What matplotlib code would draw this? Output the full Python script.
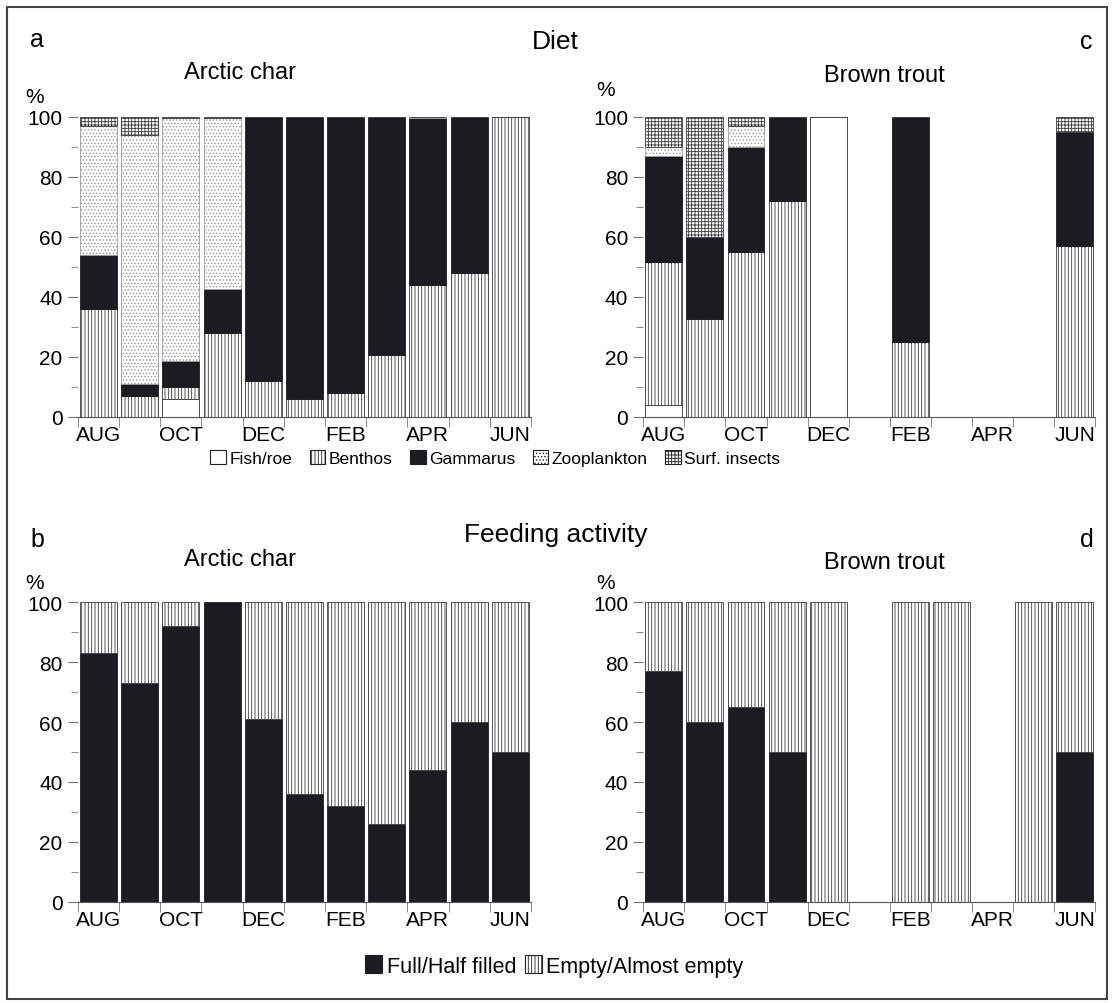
import matplotlib
matplotlib.use("Agg")
import matplotlib.pyplot as plt
from matplotlib.patches import Patch, Rectangle
import numpy as np

plt.rcParams['font.family'] = ['Liberation Sans', 'DejaVu Sans']
plt.rcParams['hatch.linewidth'] = 0.6

months = ['AUG', 'SEP', 'OCT', 'NOV', 'DEC', 'JAN', 'FEB', 'MAR', 'APR', 'MAY', 'JUN']
shown_labels = ['AUG', 'OCT', 'DEC', 'FEB', 'APR', 'JUN']

# Diet (% of stomach content), Arctic char
char_fish = [0, 0, 6, 0, 0, 0, 0, 0, 0, 0, 0]
char_benthos = [36, 7, 4, 28, 12, 6, 8, 20.5, 44, 48, 100]
char_gammarus = [18, 4, 8.5, 14.5, 88, 94, 92, 79.5, 55.7, 52, 0]
char_zoo = [43, 83, 81, 57, 0, 0, 0, 0, 0.3, 0, 0]
char_surf = [3, 6, 0.5, 0.5, 0, 0, 0, 0, 0, 0, 0]

# Diet, Brown trout
trout_fish = [4, 0, 0, 0, 100, 0, 0, 0, 0, 0, 0]
trout_benthos = [47.5, 32.5, 55, 72, 0, 0, 25, 0, 0, 0, 57]
trout_gammarus = [35.5, 27.5, 35, 28, 0, 0, 75, 0, 0, 0, 38]
trout_zoo = [3, 0, 7, 0, 0, 0, 0, 0, 0, 0, 0]
trout_surf = [10, 40, 3, 0, 0, 0, 0, 0, 0, 0, 5]

# Feeding activity
char_full = [83, 73, 92, 100, 61, 36, 32, 26, 44, 60, 50]
char_empty = [17, 27, 8, 0, 39, 64, 68, 74, 56, 40, 50]
trout_full = [77, 60, 65, 50, 0, 0, 0, 0, 0, 0, 50]
trout_empty = [23, 40, 35, 50, 100, 0, 100, 100, 0, 100, 50]

diet_names = ['Fish/roe', 'Benthos', 'Gammarus', 'Zooplankton', 'Surf. insects']
feed_names = ['Full/Half filled', 'Empty/Almost empty']

BLACK = '#1b1b22'
styles = {
    'Fish/roe': dict(facecolor='white', edgecolor='#333333', hatch=None),
    'Benthos': dict(facecolor='white', edgecolor='#3a3a3a', hatch='|||||'),
    'Gammarus': dict(facecolor=BLACK, edgecolor=BLACK, hatch=None),
    'Zooplankton': dict(facecolor='white', edgecolor='#9a9a9a', hatch='.....'),
    'Surf. insects': dict(facecolor='white', edgecolor='#3a3a3a', hatch='+++++'),
    'Full/Half filled': dict(facecolor=BLACK, edgecolor=BLACK, hatch=None),
    'Empty/Almost empty': dict(facecolor='white', edgecolor='#3a3a3a', hatch='|||||'),
}

fig = plt.figure(figsize=(11.13, 10.04), dpi=100)


def stacked(ax, names, series):
    x = np.arange(len(months))
    bottom = np.zeros(len(months))
    for name, vals in zip(names, series):
        vals = np.array(vals, dtype=float)
        st = styles[name]
        ax.bar(x, vals, width=0.9, bottom=bottom, facecolor=st['facecolor'],
               edgecolor=st['edgecolor'], hatch=st['hatch'], linewidth=0.6)
        bottom += vals
    ax.set_xlim(-0.5, len(months) - 0.5)
    ax.set_ylim(0, 100)
    for s in ['top', 'right', 'left']:
        ax.spines[s].set_visible(False)
    ax.spines['bottom'].set_color('#555555')
    ax.spines['bottom'].set_linewidth(0.8)
    ax.set_yticks(np.arange(0, 101, 20))
    ax.set_yticks(np.arange(0, 101, 10), minor=True)
    ax.set_xticks([months.index(m) for m in shown_labels])
    ax.set_xticklabels(shown_labels)
    ax.set_xticks(np.arange(-0.5, len(months)), minor=True)
    ax.tick_params(axis='x', which='major', length=0, pad=6, labelsize=15)
    ax.tick_params(axis='x', which='minor', length=7, color='#777777')
    ax.tick_params(axis='y', which='major', length=7, color='#777777', labelsize=15, pad=4)
    ax.tick_params(axis='y', which='minor', length=5, color='#777777')


ax_a = fig.add_axes([0.070, 0.5837, 0.407, 0.2988])
stacked(ax_a, diet_names, [char_fish, char_benthos, char_gammarus, char_zoo, char_surf])
ax_c = fig.add_axes([0.578, 0.5837, 0.406, 0.2988])
stacked(ax_c, diet_names, [trout_fish, trout_benthos, trout_gammarus, trout_zoo, trout_surf])
ax_b = fig.add_axes([0.070, 0.1006, 0.407, 0.2988])
stacked(ax_b, feed_names, [char_full, char_empty])
ax_d = fig.add_axes([0.578, 0.1006, 0.406, 0.2988])
stacked(ax_d, feed_names, [trout_full, trout_empty])

# titles and panel letters
fig.text(0.027, 0.960, 'a', fontsize=18, va='center')
fig.text(0.499, 0.958, 'Diet', fontsize=19, ha='center', va='center')
fig.text(0.970, 0.958, 'c', fontsize=18, va='center')
fig.text(0.216, 0.927, 'Arctic char', fontsize=17, ha='center', va='center')
fig.text(0.795, 0.924, 'Brown trout', fontsize=17, ha='center', va='center')
fig.text(0.031, 0.903, '%', fontsize=15, ha='center', va='center')
fig.text(0.544, 0.910, '%', fontsize=15, ha='center', va='center')

fig.text(0.027, 0.462, 'b', fontsize=18, va='center')
fig.text(0.499, 0.467, 'Feeding activity', fontsize=19, ha='center', va='center')
fig.text(0.970, 0.462, 'd', fontsize=18, va='center')
fig.text(0.216, 0.442, 'Arctic char', fontsize=17, ha='center', va='center')
fig.text(0.795, 0.439, 'Brown trout', fontsize=17, ha='center', va='center')
fig.text(0.031, 0.419, '%', fontsize=15, ha='center', va='center')
fig.text(0.544, 0.419, '%', fontsize=15, ha='center', va='center')

# legends
diet_handles = [Patch(facecolor=styles[n]['facecolor'], edgecolor='#222222' if n != 'Gammarus' else BLACK,
                      hatch=styles[n]['hatch'], linewidth=0.8) for n in diet_names]
fig.legend(diet_handles, diet_names, loc='center', bbox_to_anchor=(0.445, 0.543), ncol=5,
           frameon=False, fontsize=12.5, handlelength=0.9, handleheight=0.9,
           handletextpad=0.2, columnspacing=1.0)
feed_handles = [Patch(facecolor=styles[n]['facecolor'], edgecolor='#222222' if n != feed_names[0] else BLACK,
                      hatch=styles[n]['hatch'], linewidth=0.8) for n in feed_names]
fig.legend(feed_handles, feed_names, loc='center', bbox_to_anchor=(0.498, 0.037), ncol=2,
           frameon=False, fontsize=15.5, handlelength=0.8, handleheight=0.9,
           handletextpad=0.2, columnspacing=0.4)

# outer frame
fig.patches.append(Rectangle((0.006, 0.004), 0.989, 0.988, transform=fig.transFigure,
                             fill=False, edgecolor='#444444', linewidth=1.5))

fig.savefig('out.png', dpi=100)
